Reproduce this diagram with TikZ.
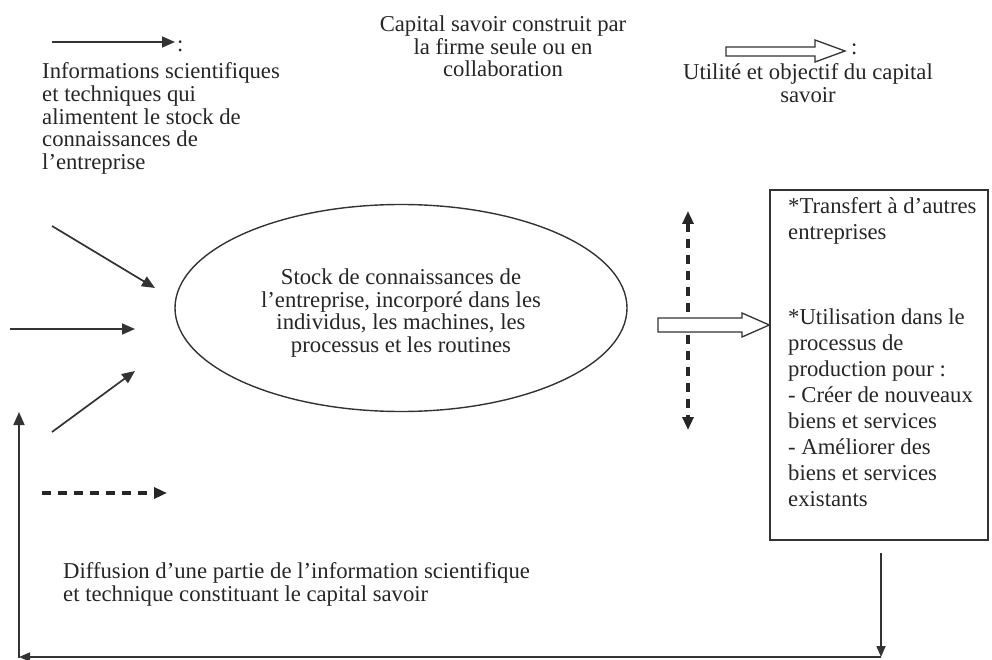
\documentclass[tikz,border=0pt]{standalone}
\usepackage{fontspec}
\setmainfont{Liberation Serif}
\usetikzlibrary{arrows.meta,shapes.geometric}
\begin{document}
\begin{tikzpicture}[x=1pt,y=-1pt,
  txt/.style={inner sep=0pt, font=\fontsize{22.7}{22.7}\selectfont, text=black!85},
  boxtxt/.style={txt, font=\fontsize{22.7}{26}\selectfont},
  tip/.style={-{Triangle[length=13pt,width=11pt]}},
  feed/.style={line width=1.7pt, draw=black!80, tip},
  spread/.style={line width=3.2pt, draw=black!85, dash pattern=on 9pt off 7pt, tip},
  hollow/.style={line width=1.3pt, draw=black!80, fill=white, line join=miter},
  frame/.style={draw=black!80, line width=1.4pt},
]
\useasboundingbox (0,0) rectangle (992,660);

% ---- legend, top left
\coordinate (l1a) at (52,42);
\coordinate (l1b) at (175,42);
\draw[feed] (l1a) -- (l1b);
\node[txt, anchor=base west] (colA) at (177,52) {:};
\node[txt, anchor=north west, align=left] (legA) at (42,62.5)
  {Informations scientifiques\\et techniques qui\\alimentent le stock de\\connaissances de\\l’entreprise};

% ---- title, top middle
\node[txt, anchor=north, align=center] (title) at (503,15.5)
  {Capital savoir construit par\\la firme seule ou en\\collaboration};

% ---- legend, top right (hollow arrow)
\draw[hollow] (726,47) -- (815,47) -- (815,40) -- (845,51) -- (815,62) -- (815,56) -- (726,56) -- cycle;
\node[txt, anchor=base west] (colB) at (851,55) {:};
\node[txt, anchor=north, align=center] (legB) at (808,63.5)
  {Utilité et objectif du capital\\savoir};

% ---- knowledge stock
\node[ellipse, draw=black!80, line width=1.4pt, minimum width=452pt, minimum height=207pt,
      inner sep=0pt] (stock) at (401,308) {};
\node[txt, align=center] (stockT) at (401,313)
  {Stock de connaissances de\\l’entreprise, incorporé dans les\\individus, les machines, les\\processus et les routines};

% ---- incoming information
\coordinate (i1a) at (52,226);  \coordinate (i1b) at (155,288);
\coordinate (i2a) at (10,329);  \coordinate (i2b) at (135,329);
\coordinate (i3a) at (52,432);  \coordinate (i3b) at (135,371);
\draw[feed] (i1a) -- (i1b);
\draw[feed] (i2a) -- (i2b);
\draw[feed] (i3a) -- (i3b);

% ---- diffusion (dashed)
\coordinate (dfa) at (42,493);  \coordinate (dfb) at (167,493);
\draw[spread] (dfa) -- (dfb);

% ---- vertical dashed two-way arrow
\coordinate (vt) at (688,211);  \coordinate (vb) at (688,430);
\draw[spread, {Triangle[length=13pt,width=11pt]}-{Triangle[length=13pt,width=11pt]}] (vt) -- (vb);

% ---- use box
\node[frame, rectangle, minimum width=218pt, minimum height=350pt, inner sep=0pt]
  (use) at (879,365) {};
\node[boxtxt, anchor=north west, align=left] (useA) at (788,197.5)
  {*Transfert à d’autres\\entreprises};
\node[boxtxt, anchor=north west, align=left] (useB) at (788,308.5)
  {*Utilisation dans le\\processus de\\production pour :\\- Créer de nouveaux\\biens et services\\- Améliorer des\\biens et services\\existants};

% ---- hollow arrow from the stock to the box
\draw[hollow] (658,318) -- (742,318) -- (742,313) -- (use.west |- 0,325) -- (742,337) -- (742,332) -- (658,332) -- cycle;

% ---- feedback loop
\coordinate (fb1) at (881,553);
\coordinate (fb2) at (881,657);
\coordinate (fb3) at (19,657);
\coordinate (fb4) at (19,658);
\coordinate (fb5) at (19,412);
\draw[feed, -{Triangle[length=11pt,width=9pt]}] (fb1) -- (fb2);
\draw[feed, -{Triangle[length=11pt,width=9pt]}] (fb2) -- (fb3);
\draw[feed] (fb4) -- (fb5);

\node[txt, anchor=north west, align=left] (diff) at (63,562.5)
  {Diffusion d’une partie de l’information scientifique\\et technique constituant le capital savoir};
\end{tikzpicture}
\end{document}
